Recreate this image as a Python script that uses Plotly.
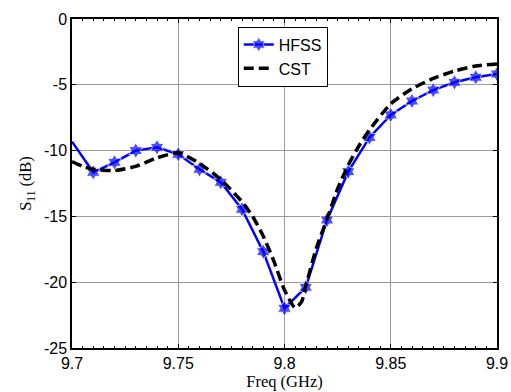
import plotly.graph_objects as go

freq_hfss = [9.70, 9.71, 9.72, 9.73, 9.74, 9.75, 9.76, 9.77, 9.78, 9.79, 9.80,
             9.81, 9.82, 9.83, 9.84, 9.85, 9.86, 9.87, 9.88, 9.89, 9.90]
s11_hfss = [-9.32, -11.65, -10.89, -10.0, -9.75, -10.28, -11.42, -12.41, -14.46, -17.68, -21.98,
            -20.39, -15.27, -11.6, -9.0, -7.29, -6.23, -5.40, -4.81, -4.43, -4.18]

freq_cst = [9.700, 9.705, 9.710, 9.720, 9.730, 9.740, 9.750, 9.760, 9.770, 9.780, 9.785,
            9.790, 9.795, 9.800, 9.805, 9.808, 9.810, 9.815, 9.820, 9.825, 9.830, 9.835,
            9.840, 9.850, 9.860, 9.870, 9.880, 9.890, 9.900]
s11_cst = [-10.84, -11.2, -11.42, -11.52, -11.2, -10.55, -10.17, -10.97, -12.2, -13.88, -15.0,
           -16.5, -18.4, -20.6, -21.95, -21.5, -20.3, -17.4, -15.2, -12.9, -11.1, -9.65,
           -8.42, -6.45, -5.3, -4.52, -3.95, -3.57, -3.42]

x_ticks = [9.7, 9.75, 9.8, 9.85, 9.9]
x_tick_text = ["9.7", "9.75", "9.8", "9.85", "9.9"]
y_ticks = [0, -5, -10, -15, -20, -25]
y_tick_text = ["0", "-5", "-10", "-15", "-20", "-25"]

marker_sizes = [0] + [12] * (len(freq_hfss) - 1)

fig = go.Figure()
fig.add_trace(go.Scatter(
    x=freq_hfss, y=s11_hfss, name="HFSS", mode="lines+markers",
    line=dict(color="#0000ff", width=2.5),
    marker=dict(symbol="hexagram", size=marker_sizes, color="#0000ff"),
))
fig.add_trace(go.Scatter(
    x=freq_cst, y=s11_cst, name="CST", mode="lines",
    line=dict(color="black", width=3.5, dash="10px,5px", shape="spline", smoothing=0.6),
))

axis_common = dict(
    showline=True, linecolor="black", linewidth=1.5, mirror="allticks",
    showgrid=True, gridcolor="#9a9a9a", gridwidth=1, zeroline=False,
    ticks="inside", ticklen=4, tickcolor="black", automargin=False,
    tickfont=dict(family="Liberation Sans, Arial", size=16, color="black"),
)

title_font = dict(family="Liberation Serif, Times New Roman", size=16.5, color="black")

fig.update_layout(
    width=511, height=392,
    margin=dict(l=72, r=14, t=19, b=44),
    paper_bgcolor="white", plot_bgcolor="white",
    xaxis=dict(
        range=[9.7, 9.9], tickvals=x_ticks, ticktext=x_tick_text,
        title=dict(text="Freq (GHz)", font=title_font, standoff=0),
        minor=dict(ticks="inside", ticklen=2.5, dtick=0.005, tickcolor="black", showgrid=False),
        **axis_common,
    ),
    yaxis=dict(
        range=[-25, 0], tickvals=y_ticks, ticktext=y_tick_text,
        title=dict(text="S<sub>11</sub> (dB)", font=title_font, standoff=8),
        **axis_common,
    ),
    legend=dict(
        x=0.39, y=0.977, xanchor="left", yanchor="top",
        bgcolor="white", bordercolor="black", borderwidth=1,
        font=dict(family="Liberation Sans, Arial", size=16, color="black"),
        itemwidth=30, tracegroupgap=0,
    ),
    showlegend=True,
)

fig.write_html("out.html")
